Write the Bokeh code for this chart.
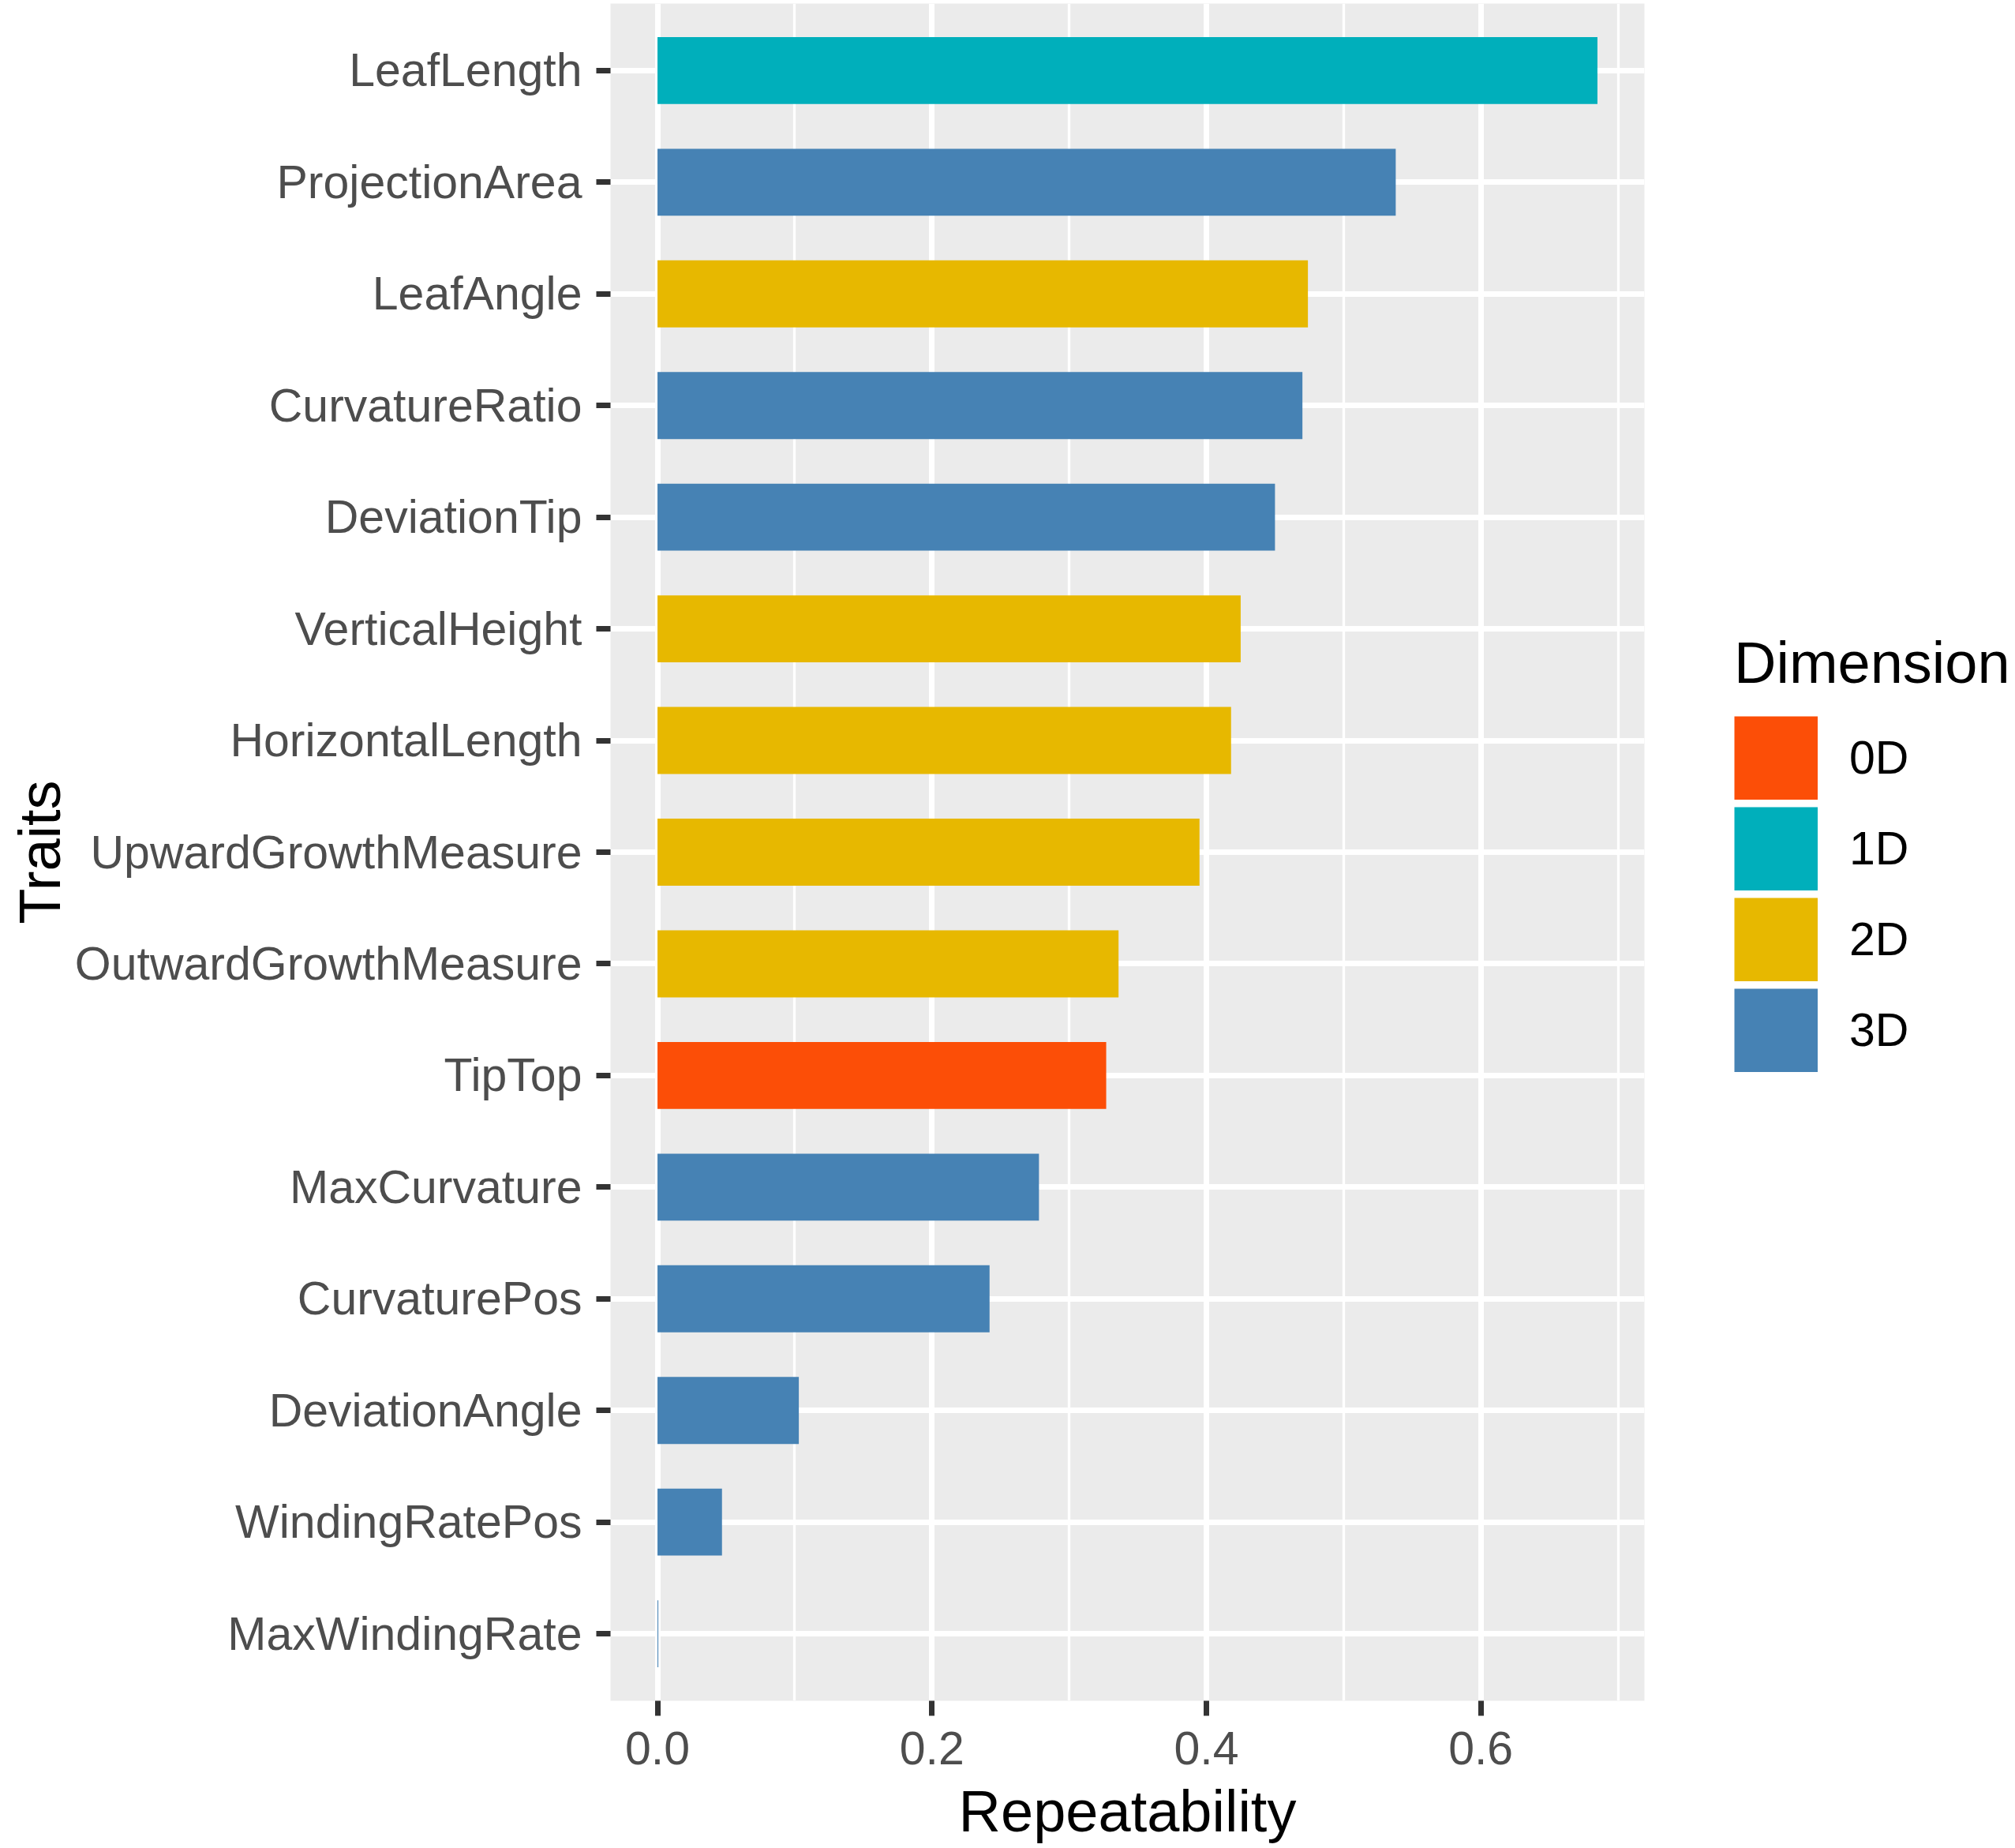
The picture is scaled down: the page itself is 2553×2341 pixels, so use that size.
from bokeh.plotting import figure
from bokeh.models import Range1d, FixedTicker, NumeralTickFormatter, Legend, LegendItem, ColumnDataSource
from bokeh.embed import file_html
from bokeh.resources import INLINE

# ---- data ----
traits = ["LeafLength", "ProjectionArea", "LeafAngle", "CurvatureRatio", "DeviationTip",
          "VerticalHeight", "HorizontalLength", "UpwardGrowthMeasure", "OutwardGrowthMeasure",
          "TipTop", "MaxCurvature", "CurvaturePos", "DeviationAngle", "WindingRatePos",
          "MaxWindingRate"]
repeatability = [0.685, 0.538, 0.474, 0.470, 0.450, 0.425, 0.418, 0.395, 0.336,
                 0.327, 0.278, 0.242, 0.103, 0.047, 0.0006]
dimension = ["1D", "3D", "2D", "3D", "3D", "2D", "2D", "2D", "2D",
             "0D", "3D", "3D", "3D", "3D", "3D"]
dim_levels = ["0D", "1D", "2D", "3D"]
dim_colors = ["#FC4E07", "#00AFBB", "#E7B800", "#4682B4"]
x_ticks = [0.0, 0.2, 0.4, 0.6]
x_minor = [0.1, 0.3, 0.5, 0.7]

FONT = "Liberation Sans"
NAN = float("nan")
n = len(traits)
ypos = [n - i for i in range(n)]
vmax = max(repeatability)

p = figure(frame_width=1310, frame_height=2150, output_backend="svg", toolbar_location=None,
           x_range=Range1d(-0.05 * vmax, 1.05 * vmax),
           y_range=Range1d(0.4, n + 0.6),
           min_border_left=773, min_border_right=470, min_border_top=4, min_border_bottom=187)
p.background_fill_color = "#EBEBEB"
p.border_fill_color = "white"
p.outline_line_color = None

# grids
xt = FixedTicker(ticks=x_ticks, minor_ticks=x_minor)
yt = FixedTicker(ticks=ypos, minor_ticks=[])
p.xaxis.ticker = xt
p.xgrid.ticker = xt
p.yaxis.ticker = yt
p.ygrid.ticker = yt
p.xgrid.grid_line_color = "white"
p.xgrid.grid_line_width = 7
p.xgrid.minor_grid_line_color = "white"
p.xgrid.minor_grid_line_width = 3.3
p.ygrid.grid_line_color = "white"
p.ygrid.grid_line_width = 7

# bars (one renderer per dimension) + full-size square legend keys
items = []
for lvl, col in zip(dim_levels, dim_colors):
    idx = [i for i, d in enumerate(dimension) if d == lvl]
    src = ColumnDataSource(dict(y=[ypos[i] for i in idx], v=[repeatability[i] for i in idx]))
    p.hbar(y="y", right="v", left=0, height=0.6, source=src,
           fill_color=col, line_color=None)
    key = p.line(x=[NAN], y=[NAN], line_color=col, line_width=106, line_cap="butt")
    items.append(LegendItem(label=lvl, renderers=[key]))

# axes
for ax in (p.xaxis[0], p.yaxis[0]):
    ax.axis_line_color = None
    ax.major_tick_line_color = "#333333"
    ax.major_tick_line_width = 7
    ax.major_tick_in = 0
    ax.minor_tick_in = 0
    ax.minor_tick_out = 0
    ax.major_label_text_font = FONT
    ax.major_label_text_font_size = "59px"
    ax.major_label_text_color = "#4D4D4D"
    ax.axis_label_text_font = FONT
    ax.axis_label_text_font_size = "74px"
    ax.axis_label_text_font_style = "normal"
    ax.axis_label_text_color = "black"

p.xaxis.formatter = NumeralTickFormatter(format="0.0")
p.xaxis.major_tick_out = 19
p.xaxis.major_label_standoff = 20
p.xaxis.axis_label = "Repeatability"
p.xaxis.axis_label_standoff = 15

p.yaxis.major_tick_out = 18
p.yaxis.major_label_standoff = 18
p.yaxis.major_label_overrides = {y: t for y, t in zip(ypos, traits)}
p.yaxis.axis_label = "Traits"
p.yaxis.axis_label_standoff = 0

legend = Legend(items=items, location=(114, 796), title="Dimension",
                title_text_font=FONT, title_text_font_size="74px",
                title_text_font_style="normal", title_text_color="black",
                title_standoff=25,
                label_text_font=FONT, label_text_font_size="59px", label_text_color="black",
                label_standoff=40, label_height=106,
                glyph_width=106, glyph_height=106, spacing=9,
                padding=0, margin=0, border_line_color=None, background_fill_alpha=0)
p.add_layout(legend, "right")

open("out.html", "w").write(file_html(p, INLINE))
